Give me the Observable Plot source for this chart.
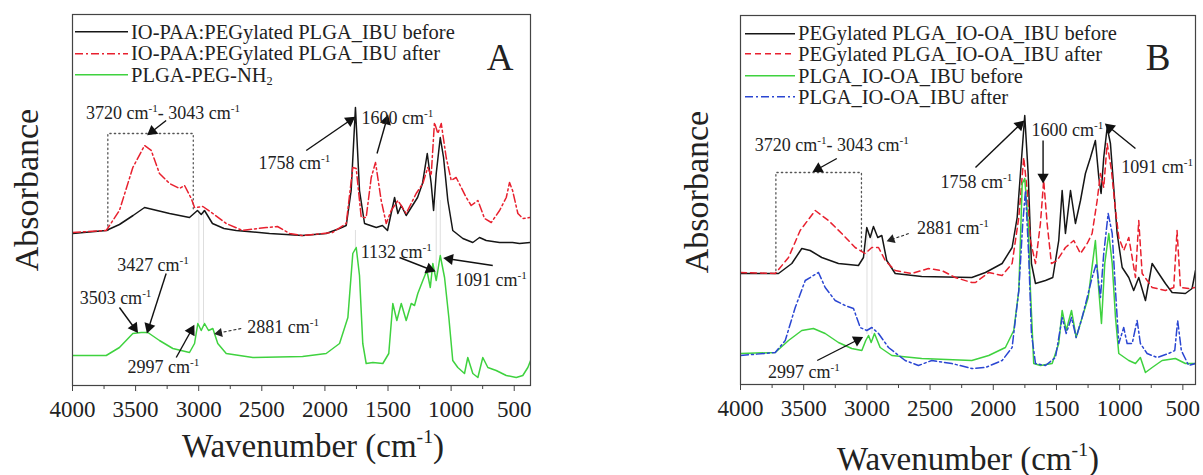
<!DOCTYPE html>
<html><head><meta charset="utf-8">
<script src="https://cdn.jsdelivr.net/npm/d3@7"></script>
<script src="https://cdn.jsdelivr.net/npm/@observablehq/plot@0.6"></script>
<style>
html,body{margin:0;padding:0;background:#fff;}
#root{position:relative;width:1203px;height:475px;overflow:hidden;font-family:"Liberation Serif","Times New Roman",Times,serif;color:#222;}
.panel{position:absolute;top:0;}
.ytitle{position:absolute;font-size:34px;transform:translate(-50%,-50%) rotate(-90deg);white-space:nowrap;line-height:1;}
.xtitle{position:absolute;font-size:33px;transform:translate(-50%,-50%);white-space:nowrap;line-height:1;}
.letter{position:absolute;font-size:37px;transform:translate(-50%,-50%);line-height:1;}
.leg{position:absolute;font-size:20.5px;white-space:nowrap;line-height:1;display:flex;align-items:center;transform:translateY(-50%);}
.leg svg{display:block;margin-right:3px;}
sup{font-size:60%;vertical-align:top;position:relative;top:-0.15em;line-height:1;}
sub{font-size:60%;vertical-align:bottom;position:relative;top:0.2em;line-height:1;}
</style></head><body><div id="root"></div>
<script>
const SERIF = '"Liberation Serif","Times New Roman",Times,serif';
// ---------- shared axis values ----------
const waveTicks = [4000, 3500, 3000, 2500, 2000, 1500, 1000, 500];
const minorTicks = [3750, 3250, 2750, 2250, 1750, 1250, 750];

// ---------- Panel A data: [wavenumber cm-1, absorbance a.u.] ----------
const ioPaaBefore = [[4000,1.52],[3733,1.55],[3628,1.61],[3520,1.70],[3429,1.78],[3330,1.75],[3231,1.72],[3073,1.68],[3010,1.75],[2980,1.71],[2954,1.75],[2891,1.62],[2800,1.57],[2703,1.55],[2439,1.52],[2177,1.50],[1990,1.52],[1884,1.57],[1831,1.60],[1792,1.95],[1758,2.78],[1726,1.95],[1686,1.62],[1593,1.58],[1544,1.60],[1504,1.55],[1448,1.88],[1422,1.72],[1395,1.80],[1356,1.70],[1316,1.78],[1266,1.88],[1227,2.02],[1189,2.32],[1158,2.02],[1139,1.75],[1118,2.12],[1086,2.48],[1060,2.28],[1026,1.85],[987,1.55],[907,1.47],[828,1.43],[775,1.48],[722,1.45],[616,1.43],[513,1.43],[458,1.42],[370,1.43]];
const ioPaaAfter = [[4000,1.53],[3733,1.55],[3628,1.75],[3522,2.18],[3429,2.40],[3376,2.35],[3311,2.12],[3231,2.02],[3152,1.97],[3112,2.00],[3059,1.87],[3033,1.78],[2967,1.79],[2888,1.72],[2782,1.62],[2653,1.55],[2465,1.58],[2376,1.59],[2280,1.52],[2177,1.50],[1940,1.53],[1831,1.62],[1779,2.18],[1752,2.17],[1712,1.68],[1673,1.68],[1633,2.08],[1599,2.23],[1554,1.85],[1514,1.62],[1475,1.75],[1422,1.85],[1356,1.72],[1277,1.92],[1224,2.02],[1185,2.18],[1158,2.10],[1132,2.63],[1105,2.52],[1078,2.62],[1039,2.28],[999,2.05],[960,2.08],[920,1.98],[880,1.88],[841,1.80],[788,1.85],[735,1.67],[682,1.63],[616,1.75],[563,1.88],[537,2.03],[513,1.95],[471,1.72],[432,1.67],[370,1.68]];
const plgaPegNh2 = [[4000,0.30],[3733,0.30],[3628,0.38],[3522,0.52],[3456,0.53],[3403,0.53],[3311,0.45],[3205,0.37],[3073,0.33],[3033,0.42],[3007,0.62],[2980,0.55],[2954,0.62],[2922,0.55],[2888,0.57],[2849,0.42],[2782,0.32],[2571,0.28],[2177,0.29],[1990,0.32],[1884,0.42],[1818,0.68],[1779,1.32],[1752,1.38],[1726,1.10],[1700,0.42],[1673,0.22],[1620,0.23],[1541,0.22],[1494,0.32],[1462,0.82],[1430,0.65],[1395,0.82],[1356,0.65],[1316,0.82],[1290,0.80],[1264,0.92],[1224,1.05],[1192,1.15],[1165,0.98],[1145,1.22],[1118,1.05],[1086,1.30],[1052,1.08],[1018,0.68],[987,0.25],[947,0.18],[894,0.12],[868,0.28],[828,0.12],[788,0.08],[749,0.28],[709,0.18],[643,0.15],[563,0.10],[484,0.08],[432,0.10],[392,0.18],[370,0.25]];

// ---------- Panel B data ----------
const pegIoOaBefore = [[4000,1.11],[3699,1.11],[3594,1.21],[3515,1.36],[3449,1.34],[3357,1.27],[3225,1.21],[3067,1.19],[3027,1.27],[3001,1.57],[2974,1.47],[2948,1.58],[2914,1.47],[2882,1.49],[2843,1.24],[2776,1.11],[2566,1.08],[2170,1.07],[2062,1.12],[1930,1.21],[1851,1.37],[1811,1.67],[1785,2.11],[1751,2.69],[1724,2.11],[1698,1.21],[1666,1.01],[1587,1.04],[1529,1.07],[1482,1.44],[1455,1.94],[1429,1.51],[1389,1.94],[1350,1.61],[1310,1.84],[1271,2.11],[1231,2.27],[1192,2.44],[1165,2.07],[1147,1.91],[1126,2.27],[1099,2.57],[1073,2.41],[1047,1.97],[1020,1.51],[980,1.17],[928,1.07],[889,0.94],[849,1.07],[796,0.84],[743,1.21],[691,1.11],[638,1.01],[585,0.92],[480,0.91],[427,0.96],[400,1.14]];
const pegIoOaAfter = [[4000,1.12],[3725,1.11],[3620,1.27],[3528,1.54],[3409,1.74],[3304,1.64],[3199,1.51],[3093,1.37],[3013,1.31],[2961,1.37],[2908,1.37],[2855,1.24],[2776,1.14],[2645,1.11],[2513,1.16],[2408,1.14],[2301,1.07],[2170,1.02],[2141,1.02],[2036,1.12],[1930,1.09],[1851,1.21],[1798,1.67],[1759,2.27],[1732,1.94],[1706,1.44],[1666,1.21],[1627,1.61],[1601,2.04],[1574,1.61],[1540,1.21],[1495,1.24],[1429,1.37],[1363,1.44],[1310,1.31],[1257,1.41],[1218,1.51],[1178,1.84],[1152,2.11],[1126,1.97],[1099,2.41],[1065,2.14],[1039,1.81],[1007,1.47],[968,1.34],[928,1.47],[901,1.27],[875,1.07],[849,1.64],[822,1.11],[743,0.97],[638,0.94],[572,0.97],[546,1.54],[519,0.97],[453,0.96],[400,0.97]];
const plgaIoOaBefore = [[4000,0.31],[3725,0.32],[3620,0.44],[3515,0.54],[3423,0.56],[3330,0.51],[3225,0.42],[3120,0.36],[3040,0.34],[3009,0.44],[2987,0.49],[2966,0.42],[2940,0.51],[2895,0.37],[2803,0.29],[2566,0.26],[2170,0.24],[2036,0.29],[1904,0.37],[1838,0.54],[1798,0.94],[1771,2.01],[1751,2.06],[1724,1.61],[1706,0.94],[1680,0.21],[1627,0.19],[1534,0.21],[1482,0.41],[1455,0.74],[1423,0.54],[1381,0.74],[1344,0.47],[1297,0.67],[1249,0.87],[1192,1.44],[1165,0.94],[1144,0.61],[1118,1.21],[1086,1.51],[1059,1.21],[1033,0.67],[1007,0.31],[928,0.24],[875,0.21],[836,0.27],[796,0.12],[743,0.17],[664,0.24],[559,0.26],[480,0.21],[400,0.21]];
const plgaIoOaAfter = [[4000,0.29],[3725,0.32],[3646,0.44],[3567,0.77],[3488,1.04],[3383,1.12],[3330,0.97],[3251,0.84],[3172,0.79],[3106,0.76],[3053,0.57],[3001,0.54],[2961,0.57],[2908,0.51],[2829,0.37],[2697,0.24],[2592,0.19],[2487,0.24],[2328,0.21],[2170,0.16],[2062,0.17],[1930,0.24],[1851,0.37],[1798,0.94],[1767,1.61],[1745,1.94],[1719,1.27],[1698,0.51],[1666,0.21],[1587,0.19],[1508,0.27],[1455,0.67],[1423,0.51],[1381,0.67],[1344,0.47],[1297,0.67],[1257,0.87],[1218,1.07],[1184,1.21],[1152,0.87],[1126,1.31],[1091,1.71],[1059,1.51],[1033,0.94],[1007,0.41],[968,0.57],[941,0.41],[901,0.41],[862,0.64],[836,0.41],[783,0.31],[704,0.27],[612,0.31],[564,0.34],[541,0.64],[512,0.34],[454,0.19],[400,0.21]];

// ---------- annotations ----------
const boxA = {x1: 3720, x2: 3043, top: 2.52, bottom1: 1.55, bottom2: 1.75};
const boxB = {x1: 3720, x2: 3043, top: 2.12, bottom1: 1.14, bottom2: 1.31};
const guidesA = [{x:2999,y1:0.62,y2:1.75},{x:2962,y1:0.62,y2:1.75},{x:1758,y1:1.38,y2:1.55},{x:1118,y1:1.05,y2:1.85},{x:1086,y1:1.30,y2:1.85}];
const guidesB = [{x:2999,y1:0.50,y2:1.55},{x:2960,y1:0.50,y2:1.55}];
const notesA = [
  {x:3283,y:2.72,text:"3720 cm-1- 3043 cm-1"},
  {x:2241,y:2.22,text:"1758 cm-1"},
  {x:1425,y:2.67,text:"1600 cm-1"},
  {x:3362,y:1.20,text:"3427 cm-1"},
  {x:3659,y:0.87,text:"3503 cm-1"},
  {x:3279,y:0.18,text:"2997 cm-1"},
  {x:2330,y:0.58,text:"2881 cm-1"},
  {x:1435,y:1.33,text:"1132 cm-1"},
  {x:685,y:1.05,text:"1091 cm-1"}
];
const arrowsA = [
  {x1:3258,y1:2.65,x2:3390,y2:2.52},
  {x1:2148,y1:2.35,x2:1779,y2:2.67},
  {x1:1587,y1:2.32,x2:1506,y2:2.68},
  {x1:3258,y1:1.12,x2:3403,y2:0.55},
  {x1:3628,y1:0.78,x2:3495,y2:0.55},
  {x1:3178,y1:0.28,x2:3046,y2:0.58},
  {x1:1409,y1:1.28,x2:1145,y2:1.15},
  {x1:670,y1:1.20,x2:1039,y2:1.27}
];
const leadersA = [{x1:2663,y1:0.57,x2:2860,y2:0.52}];
const notesB = [
  {x:3278,y:2.39,text:"3720 cm-1- 3043 cm-1"},
  {x:2134,y:2.02,text:"1758 cm-1"},
  {x:1414,y:2.54,text:"1600 cm-1"},
  {x:704,y:2.17,text:"1091 cm-1"},
  {x:2319,y:1.56,text:"2881 cm-1"},
  {x:3499,y:0.12,text:"2997 cm-1"}
];
const arrowsB = [
  {x1:3238,y1:2.26,x2:3409,y2:2.14},
  {x1:2141,y1:2.17,x2:1771,y2:2.62},
  {x1:1606,y1:2.44,x2:1606,y2:2.04},
  {x1:875,y1:2.36,x2:1099,y2:2.59},
  {x1:3393,y1:0.24,x2:3051,y2:0.46}
];
const leadersB = [{x1:2669,y1:1.51,x2:2827,y2:1.44}];

// ---------- series styles / legends ----------
const BLACK = "#161616", RED = "#e8202e", GREEN = "#3fd23f", BLUE = "#2a46d2";
const seriesA = [
  {name:"IO-PAA:PEGylated PLGA_IBU before", data: ioPaaBefore, color: BLACK, dash: null},
  {name:"IO-PAA:PEGylated PLGA_IBU after", data: ioPaaAfter, color: RED, dash: "8,3,2,3"},
  {name:"PLGA-PEG-NH2", data: plgaPegNh2, color: GREEN, dash: null}
];
const seriesB = [
  {name:"PEGylated PLGA_IO-OA_IBU before", data: pegIoOaBefore, color: BLACK, dash: null},
  {name:"PEGylated PLGA_IO-OA_IBU after", data: pegIoOaAfter, color: RED, dash: "6,4"},
  {name:"PLGA_IO-OA_IBU before", data: plgaIoOaBefore, color: GREEN, dash: null},
  {name:"PLGA_IO-OA_IBU after", data: plgaIoOaAfter, color: BLUE, dash: "8,3,2,3"}
];

const NOTE_FS = 18;

function baseOptions(cfg, marks) {
  return {
    width: cfg.width, height: 475,
    marginLeft: cfg.marginLeft, marginRight: cfg.marginRight,
    marginTop: cfg.marginTop, marginBottom: cfg.marginBottom,
    x: {domain: cfg.xDomain, label: null},
    y: {domain: cfg.yDomain, axis: null},
    style: {fontFamily: SERIF, color: "#222", background: "transparent", overflow: "visible"},
    marks
  };
}

// filled arrowheads: triangle dots at each arrow tip, rotated along the shaft
function arrowHeads(arrows, xs, ys, back) {
  return arrows.map(a => {
    const X1 = xs.apply(a.x1), Y1 = ys.apply(a.y1), X2 = xs.apply(a.x2), Y2 = ys.apply(a.y2);
    const L = Math.hypot(X2 - X1, Y2 - Y1) || 1;
    const ux = (X2 - X1) / L, uy = (Y2 - Y1) / L;
    return {
      x: xs.invert(X2 - ux * back), y: ys.invert(Y2 - uy * back),
      rotate: Math.atan2(ux, -uy) * 180 / Math.PI
    };
  });
}

function makePanel(cfg) {
  const box = cfg.box;
  const boxPath = [
    {x: box.x1, y: box.bottom1}, {x: box.x1, y: box.top},
    {x: box.x2, y: box.top}, {x: box.x2, y: box.bottom2}
  ];
  // first pass only to obtain the scales
  const probe = Plot.plot(baseOptions(cfg, [Plot.frame()]));
  const xs = probe.scale("x"), ys = probe.scale("y");
  const heads = arrowHeads(cfg.arrows, xs, ys, 3.5);
  const leadHeads = arrowHeads(cfg.leaders, xs, ys, 3);

  const marks = [
    Plot.ruleX(cfg.guides, {x: "x", y1: "y1", y2: "y2", stroke: "#d0d0d0", strokeWidth: 0.7}),
    Plot.line(boxPath, {x: "x", y: "y", stroke: "#555", strokeWidth: 1.3, strokeDasharray: "1.3,3.2"}),
    ...cfg.series.map(s => Plot.line(s.data, {
      x: d => d[0], y: d => d[1], stroke: s.color, strokeWidth: 1.5,
      strokeDasharray: s.dash, clip: true
    })),
    Plot.link(cfg.arrows, {x1: "x1", y1: "y1", x2: "x2", y2: "y2", stroke: "#111", strokeWidth: 1.4}),
    Plot.dot(heads, {x: "x", y: "y", rotate: "rotate", symbol: "triangle", r: 4.2, fill: "#111", stroke: "none"}),
    Plot.link(cfg.leaders, {x1: "x1", y1: "y1", x2: "x2", y2: "y2", stroke: "#222", strokeWidth: 1.1, strokeDasharray: "3,2"}),
    Plot.dot(leadHeads, {x: "x", y: "y", rotate: "rotate", symbol: "triangle", r: 3.4, fill: "#222", stroke: "none"}),
    Plot.text(cfg.notes, {x: "x", y: "y", text: "text", fontSize: NOTE_FS, fill: "#222", fontFamily: SERIF}),
    Plot.frame({stroke: "#444", strokeWidth: 1.2}),
    Plot.axisX({ticks: waveTicks, tickFormat: d3.format("d"), tickSize: 6, tickPadding: 9, fontSize: 23, fontFamily: SERIF, label: null, stroke: "#444"}),
    Plot.axisX({ticks: minorTicks, tickFormat: () => "", tickSize: 4, label: null, stroke: "#444"})
  ];
  const svg = Plot.plot(baseOptions(cfg, marks));
  supify(svg, NOTE_FS);
  return svg;
}

function supify(svg, fs) {
  const NS = "http://www.w3.org/2000/svg";
  const shift = fs * 0.42;
  svg.querySelectorAll("text").forEach(t => {
    const s = t.textContent;
    if (!s.includes("cm-1")) return;
    const parts = s.split("cm-1");
    while (t.firstChild) t.removeChild(t.firstChild);
    let raised = false;
    parts.forEach((p, i) => {
      if (p) {
        const ts = document.createElementNS(NS, "tspan");
        ts.textContent = p;
        if (raised) { ts.setAttribute("dy", shift); raised = false; }
        t.appendChild(ts);
      }
      if (i < parts.length - 1) {
        const cm = document.createElementNS(NS, "tspan");
        cm.textContent = "cm";
        if (raised) { cm.setAttribute("dy", shift); raised = false; }
        t.appendChild(cm);
        const sup = document.createElementNS(NS, "tspan");
        sup.textContent = "-1";
        sup.setAttribute("dy", -shift);
        sup.setAttribute("font-size", fs * 0.62);
        t.appendChild(sup);
        raised = true;
      }
    });
  });
}

const root = document.getElementById("root");

function place(el, left) {
  el.classList.add("panel");
  el.style.left = left + "px";
  root.appendChild(el);
}

place(makePanel({
  width: 560, marginLeft: 72, marginRight: 30, marginTop: 14, marginBottom: 90,
  xDomain: [4000, 371], yDomain: [0, 3.71],
  series: seriesA, box: boxA, guides: guidesA, notes: notesA, arrows: arrowsA, leaders: leadersA
}), 0);

place(makePanel({
  width: 603, marginLeft: 140, marginRight: 8, marginTop: 15, marginBottom: 91,
  xDomain: [4000, 400], yDomain: [0, 3.69],
  series: seriesB, box: boxB, guides: guidesB, notes: notesB, arrows: arrowsB, leaders: leadersB
}), 600);

// ---------- HTML overlays: titles, legends, panel letters ----------
function addDiv(cls, html, x, y) {
  const d = document.createElement("div");
  d.className = cls;
  d.innerHTML = html;
  d.style.left = x + "px";
  d.style.top = y + "px";
  root.appendChild(d);
  return d;
}
addDiv("ytitle", "Absorbance", 27, 190);
addDiv("ytitle", "Absorbance", 697, 192);
addDiv("xtitle", "Wavenumber (cm<sup>-1</sup>)", 313, 446);
addDiv("xtitle", "Wavenumber (cm<sup>-1</sup>)", 968, 459);
addDiv("letter", "A", 500, 57);
addDiv("letter", "B", 1158, 57);

function legendLabel(name) {
  return name.replace("NH2", "NH<sub>2</sub>");
}
function addLegend(series, x, ys, lineW) {
  series.forEach((s, i) => {
    const swatch = `<svg width="${lineW}" height="8"><line x1="0" y1="4" x2="${lineW}" y2="4" stroke="${s.color}" stroke-width="1.6" ${s.dash ? `stroke-dasharray="${s.dash}"` : ""}/></svg>`;
    addDiv("leg", swatch + "<span>" + legendLabel(s.name) + "</span>", x, ys[i]);
  });
}
addLegend(seriesA, 75, [31.7, 53.3, 74.5], 53);
addLegend(seriesB, 745, [33.3, 54, 75.5, 97], 50);
</script></body></html>
